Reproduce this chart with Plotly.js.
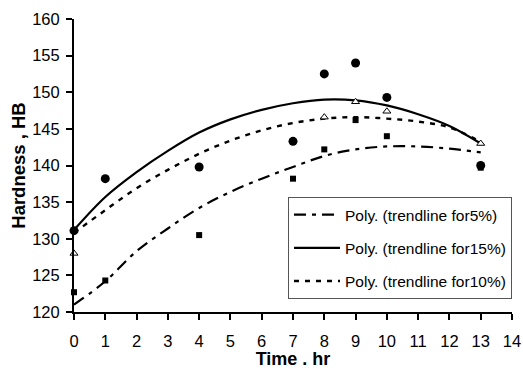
<!DOCTYPE html>
<html>
<head>
<meta charset="utf-8">
<script src="https://cdn.plot.ly/plotly-3.0.1.min.js"></script>
<style>html,body{margin:0;padding:0;background:#fff;}#chart{width:523px;height:369px;}</style>
</head>
<body>
<div id="chart"></div>
<script>
// Measured hardness points
var timeHr = [0, 1, 4, 7, 8, 9, 10, 13];
var hardness5 = [122.7, 124.3, 130.5, 138.2, 142.2, 146.2, 144.0, 139.7];
var hardness15 = [131.1, 138.2, 139.8, 143.3, 152.5, 154.0, 149.3, 140.0];
var time10 = [0, 8, 9, 10, 13];
var hardness10 = [128.0, 146.6, 148.7, 147.4, 143.0];

// Trendline values
var trendTime = [0, 1, 2, 3, 4, 5, 6, 7, 8, 9, 10, 11, 12, 13];
var trend5 = [121.0, 124.2, 128.3, 131.4, 134.2, 136.4, 138.2, 139.8, 141.3, 142.2, 142.6, 142.6, 142.3, 141.8];
var trend15 = [131.2, 135.7, 139.1, 142.0, 144.5, 146.3, 147.6, 148.5, 149.0, 148.9, 148.2, 147.0, 145.4, 143.0];
var trend10 = [130.8, 133.9, 136.9, 139.4, 141.6, 143.4, 144.8, 145.8, 146.4, 146.6, 146.4, 146.0, 145.2, 143.2];

var legendNames = ['Poly. (trendline for5%)', 'Poly. (trendline for15%)', 'Poly. (trendline for10%)'];

var FONT = 'Arial, "Liberation Sans", sans-serif';

var traces = [
  {x: trendTime, y: trend5, mode: 'lines', name: legendNames[0], legendgroup: 'a',
   line: {color: '#000', width: 2.2, dash: '12px,6px,4px,6px', shape: 'spline'}},
  {x: trendTime, y: trend15, mode: 'lines', name: legendNames[1], legendgroup: 'b',
   line: {color: '#000', width: 2.2, shape: 'spline'}},
  {x: trendTime, y: trend10, mode: 'lines', name: legendNames[2], legendgroup: 'c',
   line: {color: '#000', width: 2.4, dash: '5px,6px', shape: 'spline'}},
  {x: timeHr, y: hardness5, mode: 'markers', showlegend: false, cliponaxis: false,
   marker: {symbol: 'square', size: 6, color: '#000'}},
  {x: timeHr, y: hardness15, mode: 'markers', showlegend: false, cliponaxis: false,
   marker: {symbol: 'circle', size: 9, color: '#000'}},
  {x: time10, y: hardness10, mode: 'markers', showlegend: false, cliponaxis: false,
   marker: {symbol: 'triangle-up', size: 7, color: '#fff', line: {color: '#000', width: 1}}}
];

var layout = {
  width: 523, height: 369,
  margin: {l: 74, r: 11, t: 19, b: 57},
  paper_bgcolor: '#fff', plot_bgcolor: '#fff',
  font: {family: FONT, color: '#000', size: 16},
  showlegend: true,
  xaxis: {
    range: [0, 14], dtick: 1, tick0: 0,
    showgrid: false, zeroline: false,
    showline: true, linecolor: '#000', linewidth: 2,
    ticks: 'outside', ticklen: 6, tickwidth: 2, tickcolor: '#000',
    ticklabelstandoff: 7,
    tickfont: {size: 16.5, family: FONT},
    title: {text: '<b>Time . hr</b>', font: {size: 18, family: FONT}, standoff: 14}
  },
  yaxis: {
    range: [120, 160], dtick: 5, tick0: 120,
    showgrid: false, zeroline: false,
    showline: true, linecolor: '#000', linewidth: 2,
    ticks: 'outside', ticklen: 6, tickwidth: 2, tickcolor: '#000',
    ticklabelstandoff: 3,
    tickfont: {size: 16.5, family: FONT},
    title: {text: '<b>Hardness , HB</b>', font: {size: 18.5, family: FONT}, standoff: 2}
  },
  legend: {
    x: 0.4886, y: 0.392, xanchor: 'left', yanchor: 'top',
    bgcolor: '#fff', bordercolor: '#555', borderwidth: 1,
    font: {size: 15.5, family: FONT},
    traceorder: 'grouped', tracegroupgap: 10,
    itemwidth: 46
  }
};

Plotly.newPlot('chart', traces, layout, {displayModeBar: false, staticPlot: true});
</script>
</body>
</html>
